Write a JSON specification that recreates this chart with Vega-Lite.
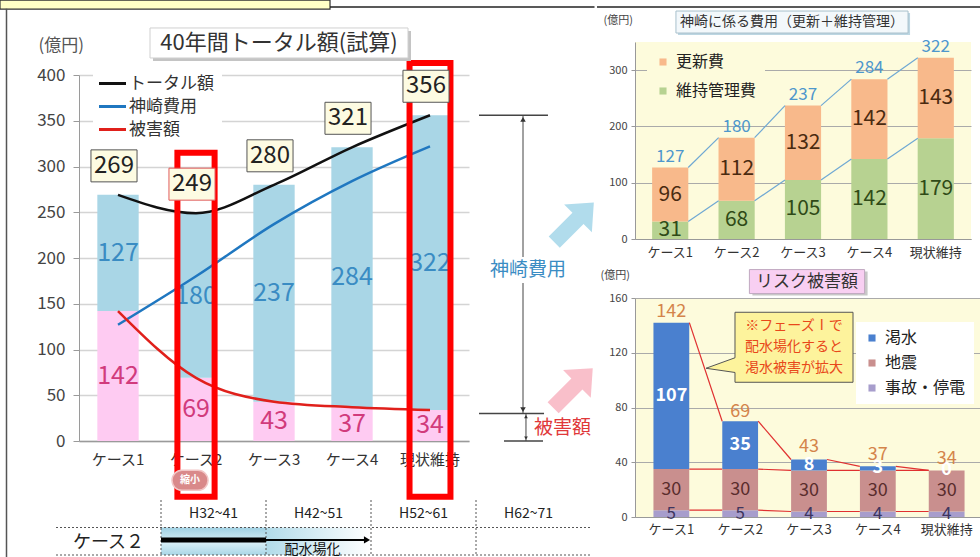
{
  "$schema": "https://vega.github.io/schema/vega-lite/v6.json",
  "padding": {"left": -3, "top": -3, "right": 0, "bottom": 0},
  "background": "#ffffff",
  "config": {
    "font": "Noto Sans CJK JP",
    "view": {"stroke": null},
    "axis": {"labelFont": "Noto Sans CJK JP", "titleFont": "Noto Sans CJK JP"},
    "legend": {"labelFont": "Noto Sans CJK JP", "titleFont": "Noto Sans CJK JP"},
    "text": {"font": "Noto Sans CJK JP"}
  },
  "datasets": {
    "main": [
      {"区分": "ケース1", "トータル額": 269, "神崎費用": 127, "被害額": 142},
      {"区分": "ケース2", "トータル額": 249, "神崎費用": 180, "被害額": 69},
      {"区分": "ケース3", "トータル額": 280, "神崎費用": 237, "被害額": 43},
      {"区分": "ケース4", "トータル額": 321, "神崎費用": 284, "被害額": 37},
      {"区分": "現状維持", "トータル額": 356, "神崎費用": 322, "被害額": 34}
    ],
    "cost": [
      {"区分": "ケース1", "更新費": 96, "維持管理費": 31, "計": 127},
      {"区分": "ケース2", "更新費": 112, "維持管理費": 68, "計": 180},
      {"区分": "ケース3", "更新費": 132, "維持管理費": 105, "計": 237},
      {"区分": "ケース4", "更新費": 142, "維持管理費": 142, "計": 284},
      {"区分": "現状維持", "更新費": 143, "維持管理費": 179, "計": 322}
    ],
    "risk": [
      {"区分": "ケース1", "渇水": 107, "地震": 30, "事故・停電": 5, "計": 142},
      {"区分": "ケース2", "渇水": 35, "地震": 30, "事故・停電": 5, "計": 69},
      {"区分": "ケース3", "渇水": 8, "地震": 30, "事故・停電": 4, "計": 43},
      {"区分": "ケース4", "渇水": 3, "地震": 30, "事故・停電": 4, "計": 37},
      {"区分": "現状維持", "渇水": 0, "地震": 30, "事故・停電": 4, "計": 34}
    ]
  },
  "spacing": 0,
  "resolve": {
    "scale": {"x": "independent", "y": "independent", "fill": "independent", "color": "independent"},
    "legend": {"fill": "independent", "color": "independent"}
  },
  "hconcat": [
    {
      "bounds": "flush",
      "spacing": 32,
      "resolve": {
        "scale": {"x": "independent", "y": "independent", "fill": "independent", "color": "independent"},
        "legend": {"fill": "independent", "color": "independent"}
      },
      "vconcat": [
        {"width": 390, "height": 1, "data": {"values": [{"t": ""}]}, "mark": {"type": "text"}, "encoding": {"text": {"field": "t"}}},
        {
          "width": 390,
          "height": 366,
          "data": {"name": "main"},
          "resolve": {"scale": {"x": "independent", "y": "independent"}, "axis": {"x": "independent", "y": "independent"}},
          "layer": [
            {
              "layer": [
                {
                  "transform": [
                    {"fold": ["被害額", "神崎費用"], "as": ["部分", "金額"]},
                    {"stack": "金額", "groupby": ["区分"], "sort": [{"field": "部分", "order": "descending"}], "as": ["s0", "s1"]}
                  ],
                  "mark": {"type": "bar"},
                  "encoding": {
                    "x": {"field": "区分", "type": "nominal", "scale": {"paddingInner": 0.47, "paddingOuter": 0.235},
                      "axis": {"title": null, "labelAngle": 0, "labelFontSize": 15, "labelColor": "#333333", "ticks": false, "labelPadding": 11, "domainColor": "#9a9a9a", "domainWidth": 1.5}},
                    "y": {"field": "s0", "type": "quantitative", "scale": {"domain": [0, 400]},
                      "axis": {"values": [0, 50, 100, 150, 200, 250, 300, 350, 400], "title": "(億円)", "titleAngle": 0, "titleX": -41, "titleY": -30, "titleAlign": "left", "titleBaseline": "middle", "titleFontSize": 17, "titleFontWeight": "normal", "titleColor": "#555555", "labelFontSize": 17, "labelColor": "#444444", "labelPadding": 8, "tickSize": 6, "tickColor": "#9a9a9a", "domainColor": "#9a9a9a", "gridColor": "#d4d4d4", "gridWidth": 1.5}},
                    "y2": {"field": "s1"},
                    "fill": {"field": "部分", "type": "nominal", "scale": {"domain": ["被害額", "神崎費用"], "range": ["#fecbf2", "#a9d6e6"]}, "legend": null}
                  }
                },
                {
                  "transform": [
                    {"fold": ["被害額", "神崎費用"], "as": ["部分", "金額"]},
                    {"stack": "金額", "groupby": ["区分"], "sort": [{"field": "部分", "order": "descending"}], "as": ["s0", "s1"]},
                    {"fold": ["s0", "s1"], "as": ["端", "端値"]},
                    {"aggregate": [{"op": "mean", "field": "端値", "as": "中"}], "groupby": ["区分", "部分", "金額"]},
                    {"filter": {"field": "部分", "equal": "神崎費用"}}
                  ],
                  "mark": {"type": "text", "fontSize": 25, "color": "#3a8cc3"},
                  "encoding": {"x": {"field": "区分", "type": "nominal"}, "y": {"field": "中", "type": "quantitative"}, "text": {"field": "金額", "type": "quantitative"}}
                },
                {
                  "transform": [
                    {"fold": ["被害額", "神崎費用"], "as": ["部分", "金額"]},
                    {"stack": "金額", "groupby": ["区分"], "sort": [{"field": "部分", "order": "descending"}], "as": ["s0", "s1"]},
                    {"fold": ["s0", "s1"], "as": ["端", "端値"]},
                    {"aggregate": [{"op": "mean", "field": "端値", "as": "中"}], "groupby": ["区分", "部分", "金額"]},
                    {"filter": {"field": "部分", "equal": "被害額"}}
                  ],
                  "mark": {"type": "text", "fontSize": 25, "color": "#d13b7c"},
                  "encoding": {"x": {"field": "区分", "type": "nominal"}, "y": {"field": "中", "type": "quantitative"}, "text": {"field": "金額", "type": "quantitative"}}
                },
                {
                  "transform": [{"fold": ["トータル額", "神崎費用", "被害額"], "as": ["系列", "値"]}],
                  "mark": {"type": "line", "interpolate": "monotone", "strokeWidth": 2.5},
                  "encoding": {
                    "x": {"field": "区分", "type": "nominal"},
                    "y": {"field": "値", "type": "quantitative"},
                    "color": {"field": "系列", "type": "nominal",
                      "scale": {"domain": ["トータル額", "神崎費用", "被害額"], "range": ["#111111", "#1f77c0", "#e0201b"]},
                      "legend": {"orient": "none", "legendX": 14, "legendY": -11, "title": null, "symbolType": "M-1.35,0H1.35", "symbolSize": 400, "symbolStrokeWidth": 3, "labelFontSize": 17, "labelColor": "#333333", "rowPadding": 3, "labelOffset": 5, "fillColor": "#ffffff", "padding": 8}}
                  }
                },
                {
                  "data": {"values": [{"区分": "ケース2"}]},
                  "mark": {"type": "bar", "fillOpacity": 0, "stroke": "#ff0000", "strokeWidth": 6, "width": {"band": 0.9}},
                  "encoding": {"x": {"field": "区分", "type": "nominal"}, "y": {"datum": 315, "type": "quantitative"}, "y2": {"datum": -61}}
                },
                {
                  "data": {"values": [{"区分": "現状維持"}]},
                  "mark": {"type": "bar", "fillOpacity": 0, "stroke": "#ff0000", "strokeWidth": 6, "width": {"band": 0.99}},
                  "encoding": {"x": {"field": "区分", "type": "nominal"}, "y": {"datum": 413, "type": "quantitative"}, "y2": {"datum": -61}}
                },
                {
                  "mark": {"type": "point", "shape": "M-1.44,-1H1.44V1H-1.44Z", "size": 1024, "filled": true, "fill": "#fdfbe2", "strokeWidth": 1, "opacity": 1, "xOffset": -4, "yOffset": -29},
                  "encoding": {
                    "x": {"field": "区分", "type": "nominal"},
                    "y": {"field": "トータル額", "type": "quantitative"},
                    "stroke": {"condition": {"test": "datum['区分'] === 'ケース2'", "value": "#e05a5a"}, "value": "#555555"}
                  }
                },
                {
                  "mark": {"type": "text", "fontSize": 24, "color": "#222222", "xOffset": -4, "yOffset": -29},
                  "encoding": {"x": {"field": "区分", "type": "nominal"}, "y": {"field": "トータル額", "type": "quantitative"}, "text": {"field": "トータル額", "type": "quantitative"}}
                },
                {
                  "data": {"values": [{}]},
                  "mark": {"type": "point", "shape": "M-8.6,-1H8.6V1H-8.6Z", "size": 900, "filled": true, "fill": "#c4c4c4", "strokeWidth": 0, "opacity": 1, "xOffset": 8, "yOffset": 3},
                  "encoding": {"x": {"datum": "ケース3"}, "y": {"datum": 435, "type": "quantitative"}}
                },
                {
                  "data": {"values": [{}]},
                  "mark": {"type": "point", "shape": "M-8.6,-1H8.6V1H-8.6Z", "size": 900, "filled": true, "fill": "#ffffff", "stroke": "#d0d0d0", "strokeWidth": 1, "opacity": 1, "xOffset": 5},
                  "encoding": {"x": {"datum": "ケース3"}, "y": {"datum": 435, "type": "quantitative"}}
                },
                {
                  "data": {"values": [{}]},
                  "mark": {"type": "text", "text": "40年間トータル額(試算)", "fontSize": 22, "color": "#333333", "xOffset": 5},
                  "encoding": {"x": {"datum": "ケース3"}, "y": {"datum": 435, "type": "quantitative"}}
                },
                {
                  "data": {"values": [{}]},
                  "mark": {"type": "point", "shape": "M-0.8,-1H0.8A1,1 0 0 1 0.8,1H-0.8A1,1 0 0 1 -0.8,-1Z", "size": 400, "filled": true, "fill": "#d9898a", "stroke": "#f2c6c6", "strokeWidth": 1.5, "opacity": 1, "xOffset": -6},
                  "encoding": {"x": {"datum": "ケース2"}, "y": {"datum": -43, "type": "quantitative"}}
                },
                {
                  "data": {"values": [{}]},
                  "mark": {"type": "text", "text": "縮小", "fontSize": 10, "fontWeight": "bold", "color": "#ffffff", "xOffset": -6},
                  "encoding": {"x": {"datum": "ケース2"}, "y": {"datum": -43, "type": "quantitative"}}
                },
                {
                  "data": {"values": [{}]},
                  "mark": {"type": "point", "shape": "M-36.67,-1H36.67V1H-36.67Z", "size": 81, "filled": true, "fill": "#ffffc6", "stroke": "#333333", "strokeWidth": 1.2, "opacity": 1, "xOffset": -31},
                  "encoding": {"x": {"datum": "ケース2"}, "y": {"datum": 477, "type": "quantitative"}}
                },
                {
                  "data": {"values": [{}]},
                  "mark": {"type": "rule", "color": "#222222", "strokeWidth": 1.5, "xOffset": 134, "x2Offset": 164.5},
                  "encoding": {"x": {"datum": "ケース2"}, "x2": {"datum": "現状維持"}, "y": {"datum": 474.3, "type": "quantitative"}}
                },
                {
                  "data": {"values": [{}]},
                  "mark": {"type": "rule", "color": "#555555", "strokeWidth": 1.5, "xOffset": -111.5},
                  "encoding": {"x": {"datum": "ケース1"}, "y": {"datum": 472.5, "type": "quantitative"}, "y2": {"datum": -126.8}}
                },
                {
                  "data": {"values": [{}]},
                  "mark": {"type": "point", "shape": "square", "size": 1, "filled": true, "strokeWidth": 0, "opacity": 0, "xOffset": 164},
                  "encoding": {"x": {"datum": "現状維持"}, "y": {"datum": 200, "type": "quantitative"}}
                }
              ]
            },
            {
              "data": {"values": [{}]},
              "layer": [
                {
                  "mark": {"type": "rule", "color": "#444444", "strokeWidth": 1.5},
                  "encoding": {
                    "x": {"datum": 0.091, "type": "quantitative", "scale": {"domain": [0, 1], "range": [390, 500]}, "axis": null},
                    "x2": {"datum": 0.718},
                    "y": {"datum": 356, "type": "quantitative", "scale": {"domain": [0, 400]}, "axis": null}
                  }
                },
                {
                  "mark": {"type": "rule", "color": "#444444", "strokeWidth": 1.5},
                  "encoding": {"x": {"datum": 0.091, "type": "quantitative"}, "x2": {"datum": 0.682}, "y": {"datum": 30, "type": "quantitative"}}
                },
                {
                  "mark": {"type": "rule", "color": "#444444", "strokeWidth": 1.5},
                  "encoding": {"x": {"datum": 0.318, "type": "quantitative"}, "x2": {"datum": 0.673}, "y": {"datum": 0, "type": "quantitative"}}
                },
                {
                  "mark": {"type": "rule", "color": "#444444", "strokeWidth": 1},
                  "encoding": {"x": {"datum": 0.491, "type": "quantitative"}, "y": {"datum": 356, "type": "quantitative"}, "y2": {"datum": 30}}
                },
                {
                  "mark": {"type": "point", "shape": "triangle-up", "size": 30, "filled": true, "color": "#333333", "opacity": 1, "yOffset": 4},
                  "encoding": {"x": {"datum": 0.491, "type": "quantitative"}, "y": {"datum": 356, "type": "quantitative"}}
                },
                {
                  "mark": {"type": "point", "shape": "triangle-down", "size": 30, "filled": true, "color": "#333333", "opacity": 1, "yOffset": -4},
                  "encoding": {"x": {"datum": 0.491, "type": "quantitative"}, "y": {"datum": 30, "type": "quantitative"}}
                },
                {
                  "mark": {"type": "rule", "color": "#444444", "strokeWidth": 1},
                  "encoding": {"x": {"datum": 0.518, "type": "quantitative"}, "y": {"datum": 30, "type": "quantitative"}, "y2": {"datum": 0}}
                },
                {
                  "mark": {"type": "point", "shape": "triangle-up", "size": 14, "filled": true, "color": "#333333", "opacity": 1, "yOffset": 3},
                  "encoding": {"x": {"datum": 0.518, "type": "quantitative"}, "y": {"datum": 30, "type": "quantitative"}}
                },
                {
                  "mark": {"type": "point", "shape": "triangle-down", "size": 14, "filled": true, "color": "#333333", "opacity": 1, "yOffset": -3},
                  "encoding": {"x": {"datum": 0.518, "type": "quantitative"}, "y": {"datum": 0, "type": "quantitative"}}
                },
                {
                  "mark": {"type": "point", "shape": "M-3.2,-1H3.2V1H-3.2Z", "size": 676, "filled": true, "fill": "#ffffff", "strokeWidth": 0, "opacity": 1},
                  "encoding": {"x": {"datum": 0.536, "type": "quantitative"}, "y": {"datum": 187, "type": "quantitative"}}
                },
                {
                  "mark": {"type": "text", "text": "神崎費用", "fontSize": 19, "color": "#3a8cc3"},
                  "encoding": {"x": {"datum": 0.536, "type": "quantitative"}, "y": {"datum": 187, "type": "quantitative"}}
                },
                {
                  "mark": {"type": "text", "text": "被害額", "fontSize": 19, "color": "#e0383a", "align": "left"},
                  "encoding": {"x": {"datum": 0.591, "type": "quantitative"}, "y": {"datum": 14, "type": "quantitative"}}
                },
                {
                  "mark": {"type": "point", "shape": "M-0.905,0.509L-0.057,-0.339L-0.354,-0.636L0.707,-0.707L0.636,0.354L0.339,0.057L-0.509,0.905Z", "size": 3136, "filled": true, "fill": "#a9d8ea", "strokeWidth": 0, "opacity": 0.9},
                  "encoding": {"x": {"datum": 0.955, "type": "quantitative"}, "y": {"datum": 239, "type": "quantitative"}}
                },
                {
                  "mark": {"type": "point", "shape": "M-0.905,0.509L-0.057,-0.339L-0.354,-0.636L0.707,-0.707L0.636,0.354L0.339,0.057L-0.509,0.905Z", "size": 3136, "filled": true, "fill": "#f8b8c4", "strokeWidth": 0, "opacity": 0.9},
                  "encoding": {"x": {"datum": 0.945, "type": "quantitative"}, "y": {"datum": 58, "type": "quantitative"}}
                }
              ]
            },
            {
              "layer": [
                {
                  "data": {"values": [{"期間": "H32~41"}]},
                  "mark": {"type": "rect", "fill": {"gradient": "linear", "x1": 0, "y1": 0, "x2": 0, "y2": 1, "stops": [{"offset": 0, "color": "#9fd0e2"}, {"offset": 0.55, "color": "#d9eff7"}, {"offset": 1, "color": "#a9d6e6"}]}},
                  "encoding": {
                    "x": {"field": "期間", "type": "nominal", "scale": {"domain": ["_", "H32~41", "H42~51", "H52~61", "H62~71"], "range": [-23, 502], "paddingInner": 0, "paddingOuter": 0}, "axis": null},
                    "y": {"datum": 1, "type": "quantitative", "scale": {"domain": [0, 2], "range": [480, 425]}, "axis": null},
                    "y2": {"datum": 0}
                  }
                },
                {
                  "data": {"values": [{"期間": "H42~51"}]},
                  "mark": {"type": "rect", "fill": {"gradient": "linear", "x1": 0, "y1": 0, "x2": 1, "y2": 0, "stops": [{"offset": 0, "color": "#b2dbe9"}, {"offset": 1, "color": "#ffffff"}]}},
                  "encoding": {"x": {"field": "期間", "type": "nominal"}, "y": {"datum": 1, "type": "quantitative"}, "y2": {"datum": 0}}
                },
                {
                  "data": {"values": [{"期間": "H32~41"}, {"期間": "H42~51"}, {"期間": "H52~61"}, {"期間": "H62~71"}]},
                  "mark": {"type": "rule", "color": "#555555", "strokeWidth": 1, "strokeDash": [2, 2]},
                  "encoding": {"x": {"field": "期間", "type": "nominal", "bandPosition": 0}, "y": {"datum": 2, "type": "quantitative"}, "y2": {"datum": 0}}
                },
                {
                  "data": {"values": [{}]},
                  "mark": {"type": "rule", "color": "#555555", "strokeWidth": 1, "strokeDash": [2, 2], "xOffset": -52.5, "x2Offset": 62},
                  "encoding": {"x": {"datum": "_"}, "x2": {"datum": "H62~71"}, "y": {"datum": 1, "type": "quantitative"}}
                },
                {
                  "data": {"values": [{}]},
                  "mark": {"type": "rule", "color": "#555555", "strokeWidth": 1, "strokeDash": [2, 2], "xOffset": -52.5, "x2Offset": 62},
                  "encoding": {"x": {"datum": "_"}, "x2": {"datum": "H62~71"}, "y": {"datum": 0, "type": "quantitative"}}
                },
                {
                  "data": {"values": [{"期間": "H32~41"}, {"期間": "H42~51"}, {"期間": "H52~61"}, {"期間": "H62~71"}]},
                  "mark": {"type": "text", "fontSize": 14, "color": "#222222"},
                  "encoding": {"x": {"field": "期間", "type": "nominal"}, "y": {"datum": 1.5, "type": "quantitative"}, "text": {"field": "期間"}}
                },
                {
                  "data": {"values": [{"期間": "_", "行": "ケース２"}]},
                  "mark": {"type": "text", "fontSize": 18, "color": "#222222"},
                  "encoding": {"x": {"field": "期間", "type": "nominal"}, "y": {"datum": 0.45, "type": "quantitative"}, "text": {"field": "行"}}
                },
                {
                  "data": {"values": [{"期間": "H32~41"}]},
                  "mark": {"type": "tick", "orient": "horizontal", "bandSize": 105, "thickness": 5, "color": "#000000", "opacity": 1},
                  "encoding": {"x": {"field": "期間", "type": "nominal"}, "y": {"datum": 0.55, "type": "quantitative"}}
                },
                {
                  "data": {"values": [{"期間": "H42~51"}]},
                  "mark": {"type": "tick", "orient": "horizontal", "bandSize": 98, "thickness": 2, "color": "#000000", "opacity": 1, "xOffset": -3},
                  "encoding": {"x": {"field": "期間", "type": "nominal"}, "y": {"datum": 0.55, "type": "quantitative"}}
                },
                {
                  "data": {"values": [{"期間": "H42~51"}]},
                  "mark": {"type": "point", "shape": "triangle-right", "size": 50, "filled": true, "color": "#000000", "opacity": 1, "xOffset": -4},
                  "encoding": {"x": {"field": "期間", "type": "nominal", "bandPosition": 1}, "y": {"datum": 0.55, "type": "quantitative"}}
                },
                {
                  "data": {"values": [{"期間": "H42~51"}]},
                  "mark": {"type": "text", "text": "配水場化", "fontSize": 14, "color": "#111111", "dy": 9, "xOffset": -6},
                  "encoding": {"x": {"field": "期間", "type": "nominal"}, "y": {"datum": 0.5, "type": "quantitative"}}
                }
              ]
            }
          ]
        }
      ]
    },
    {
      "bounds": "flush",
      "spacing": 59,
      "resolve": {
        "scale": {"x": "independent", "y": "independent", "fill": "independent", "color": "independent"},
        "legend": {"fill": "independent", "color": "independent"}
      },
      "vconcat": [
        {
          "width": 336,
          "height": 197,
          "view": {"fill": "#fdfbdc", "stroke": null},
          "data": {"name": "cost"},
          "layer": [
            {
              "transform": [
                {"fold": ["維持管理費", "更新費"], "as": ["部分", "金額"]},
                {"stack": "金額", "groupby": ["区分"], "sort": [{"field": "部分", "order": "descending"}], "as": ["s0", "s1"]}
              ],
              "mark": {"type": "bar"},
              "encoding": {
                "x": {"field": "区分", "type": "nominal", "scale": {"paddingInner": 0.455, "paddingOuter": 0.258},
                  "axis": {"title": null, "labelAngle": 0, "labelFontSize": 13, "labelColor": "#333333", "ticks": false, "labelPadding": 7, "domainColor": "#999999"}},
                "y": {"field": "s0", "type": "quantitative", "scale": {"domain": [0, 350]},
                  "axis": {"values": [0, 50, 100, 150, 200, 250, 300, 350], "title": "(億円)", "titleAngle": 0, "titleX": -32, "titleY": -22, "titleAlign": "left", "titleBaseline": "middle", "titleFontSize": 11, "titleFontWeight": "normal", "titleColor": "#444444", "labelFontSize": 11, "labelColor": "#444444", "tickSize": 4, "labelPadding": 4, "tickColor": "#999999", "domainColor": "#999999", "gridColor": "#aaaaaa", "gridWidth": 1}},
                "y2": {"field": "s1"},
                "fill": {"field": "部分", "type": "nominal", "scale": {"domain": ["更新費", "維持管理費"], "range": ["#f8b98b", "#b7d291"]},
                  "legend": {"orient": "none", "legendX": 12, "legendY": 4, "title": null, "symbolType": "square", "symbolSize": 50, "labelFontSize": 16, "labelColor": "#222222", "rowPadding": 13, "fillColor": "#fdfbdc", "padding": 8, "labelOffset": 5}}
              }
            },
            {
              "transform": [
                {"fold": ["維持管理費", "更新費"], "as": ["部分", "金額"]},
                {"stack": "金額", "groupby": ["区分"], "sort": [{"field": "部分", "order": "descending"}], "as": ["s0", "s1"]},
                {"window": [{"op": "lead", "field": "s1", "as": "次値"}, {"op": "lead", "field": "区分", "as": "次区分"}], "groupby": ["部分"], "sort": [{"field": "区分", "order": "ascending"}]},
                {"filter": "isValid(datum['次区分'])"}
              ],
              "mark": {"type": "rule", "color": "#6fa8d3", "strokeWidth": 1.2, "xOffset": 18, "x2Offset": -18},
              "encoding": {"x": {"field": "区分", "type": "nominal"}, "x2": {"field": "次区分"}, "y": {"field": "s1", "type": "quantitative"}, "y2": {"field": "次値"}}
            },
            {
              "transform": [
                {"fold": ["維持管理費", "更新費"], "as": ["部分", "金額"]},
                {"stack": "金額", "groupby": ["区分"], "sort": [{"field": "部分", "order": "descending"}], "as": ["s0", "s1"]},
                {"fold": ["s0", "s1"], "as": ["端", "端値"]},
                {"aggregate": [{"op": "mean", "field": "端値", "as": "中"}], "groupby": ["区分", "部分", "金額"]},
                {"filter": {"field": "部分", "equal": "更新費"}}
              ],
              "mark": {"type": "text", "fontSize": 21, "color": "#4a2a10"},
              "encoding": {"x": {"field": "区分", "type": "nominal"}, "y": {"field": "中", "type": "quantitative"}, "text": {"field": "金額", "type": "quantitative"}}
            },
            {
              "transform": [
                {"fold": ["維持管理費", "更新費"], "as": ["部分", "金額"]},
                {"stack": "金額", "groupby": ["区分"], "sort": [{"field": "部分", "order": "descending"}], "as": ["s0", "s1"]},
                {"fold": ["s0", "s1"], "as": ["端", "端値"]},
                {"aggregate": [{"op": "mean", "field": "端値", "as": "中"}], "groupby": ["区分", "部分", "金額"]},
                {"filter": {"field": "部分", "equal": "維持管理費"}}
              ],
              "mark": {"type": "text", "fontSize": 21, "color": "#2f4a17"},
              "encoding": {"x": {"field": "区分", "type": "nominal"}, "y": {"field": "中", "type": "quantitative"}, "text": {"field": "金額", "type": "quantitative"}}
            },
            {
              "mark": {"type": "text", "fontSize": 17, "color": "#4e97cc", "baseline": "bottom", "dy": -2},
              "encoding": {"x": {"field": "区分", "type": "nominal"}, "y": {"field": "計", "type": "quantitative"}, "text": {"field": "計", "type": "quantitative"}}
            },
            {
              "data": {"values": [{}]},
              "mark": {"type": "point", "shape": "M-10.55,-1H10.55V1H-10.55Z", "size": 484, "filled": true, "fill": "#bcd6e2", "strokeWidth": 0, "opacity": 1, "xOffset": -9, "yOffset": 2},
              "encoding": {"x": {"datum": "ケース3"}, "y": {"datum": 385.5, "type": "quantitative"}}
            },
            {
              "data": {"values": [{}]},
              "mark": {"type": "point", "shape": "M-10.55,-1H10.55V1H-10.55Z", "size": 484, "filled": true, "fill": "#f3f8fb", "stroke": "#a8c0cc", "strokeWidth": 1, "opacity": 1, "xOffset": -11},
              "encoding": {"x": {"datum": "ケース3"}, "y": {"datum": 385.5, "type": "quantitative"}}
            },
            {
              "data": {"values": [{}]},
              "mark": {"type": "text", "text": "神崎に係る費用（更新＋維持管理）", "fontSize": 14, "color": "#333333", "xOffset": -11},
              "encoding": {"x": {"datum": "ケース3"}, "y": {"datum": 385.5, "type": "quantitative"}}
            },
            {
              "data": {"values": [{}]},
              "mark": {"type": "rule", "color": "#222222", "strokeWidth": 1.5, "xOffset": -73.2, "x2Offset": 47.2},
              "encoding": {"x": {"datum": "ケース1"}, "x2": {"datum": "現状維持"}, "y": {"datum": 412.2, "type": "quantitative"}}
            },
            {
              "data": {"values": [{}]},
              "mark": {"type": "point", "shape": "square", "size": 1, "filled": true, "strokeWidth": 0, "opacity": 0, "xOffset": -72.7},
              "encoding": {"x": {"datum": "ケース1"}, "y": {"datum": 400, "type": "quantitative"}}
            }
          ]
        },
        {
          "width": 348,
          "height": 219,
          "view": {"fill": "#fdfbdc", "stroke": null},
          "data": {"name": "risk"},
          "layer": [
            {
              "transform": [
                {"fold": ["事故・停電", "地震", "渇水"], "as": ["部分", "金額"]},
                {"stack": "金額", "groupby": ["区分"], "sort": [{"field": "部分", "order": "ascending"}], "as": ["s0", "s1"]}
              ],
              "mark": {"type": "bar"},
              "encoding": {
                "x": {"field": "区分", "type": "nominal", "scale": {"paddingInner": 0.48, "paddingOuter": 0.268},
                  "axis": {"title": null, "labelAngle": 0, "labelFontSize": 13, "labelColor": "#333333", "ticks": false, "labelPadding": 6, "domainColor": "#999999"}},
                "y": {"field": "s0", "type": "quantitative", "scale": {"domain": [0, 160]},
                  "axis": {"values": [0, 20, 40, 60, 80, 100, 120, 140, 160], "title": "(億円)", "titleAngle": 0, "titleX": -35, "titleY": -23, "titleAlign": "left", "titleBaseline": "middle", "titleFontSize": 11, "titleFontWeight": "normal", "titleColor": "#444444", "labelFontSize": 11, "labelColor": "#444444", "tickSize": 4, "labelPadding": 4, "tickColor": "#999999", "domainColor": "#999999", "gridColor": "#aaaaaa", "gridWidth": 1}},
                "y2": {"field": "s1"},
                "fill": {"field": "部分", "type": "nominal", "scale": {"domain": ["渇水", "地震", "事故・停電"], "range": ["#4a80cf", "#c98f8e", "#a79dcc"]},
                  "legend": {"orient": "none", "legendX": 221, "legendY": 24, "title": null, "symbolType": "square", "symbolSize": 50, "labelFontSize": 16, "labelColor": "#222222", "rowPadding": 9, "fillColor": "#ffffff", "padding": 8, "labelOffset": 5}}
              }
            },
            {
              "transform": [
                {"fold": ["事故・停電", "地震", "渇水"], "as": ["部分", "金額"]},
                {"stack": "金額", "groupby": ["区分"], "sort": [{"field": "部分", "order": "ascending"}], "as": ["s0", "s1"]},
                {"window": [{"op": "lead", "field": "s1", "as": "次値"}, {"op": "lead", "field": "区分", "as": "次区分"}], "groupby": ["部分"], "sort": [{"field": "区分", "order": "ascending"}]},
                {"filter": "isValid(datum['次区分'])"}
              ],
              "mark": {"type": "rule", "color": "#e03030", "strokeWidth": 1.2, "xOffset": 18, "x2Offset": -18},
              "encoding": {"x": {"field": "区分", "type": "nominal"}, "x2": {"field": "次区分"}, "y": {"field": "s1", "type": "quantitative"}, "y2": {"field": "次値"}}
            },
            {
              "transform": [
                {"fold": ["事故・停電", "地震", "渇水"], "as": ["部分", "金額"]},
                {"stack": "金額", "groupby": ["区分"], "sort": [{"field": "部分", "order": "ascending"}], "as": ["s0", "s1"]},
                {"fold": ["s0", "s1"], "as": ["端", "端値"]},
                {"aggregate": [{"op": "mean", "field": "端値", "as": "中"}], "groupby": ["区分", "部分", "金額"]},
                {"filter": {"field": "部分", "equal": "渇水"}}
              ],
              "mark": {"type": "text", "fontSize": 18, "fontWeight": "bold", "color": "#ffffff"},
              "encoding": {"x": {"field": "区分", "type": "nominal"}, "y": {"field": "中", "type": "quantitative"}, "text": {"field": "金額", "type": "quantitative"}}
            },
            {
              "transform": [
                {"fold": ["事故・停電", "地震", "渇水"], "as": ["部分", "金額"]},
                {"stack": "金額", "groupby": ["区分"], "sort": [{"field": "部分", "order": "ascending"}], "as": ["s0", "s1"]},
                {"fold": ["s0", "s1"], "as": ["端", "端値"]},
                {"aggregate": [{"op": "mean", "field": "端値", "as": "中"}], "groupby": ["区分", "部分", "金額"]},
                {"filter": {"field": "部分", "equal": "地震"}}
              ],
              "mark": {"type": "text", "fontSize": 18, "color": "#5a2d2d"},
              "encoding": {"x": {"field": "区分", "type": "nominal"}, "y": {"field": "中", "type": "quantitative"}, "text": {"field": "金額", "type": "quantitative"}}
            },
            {
              "transform": [
                {"fold": ["事故・停電", "地震", "渇水"], "as": ["部分", "金額"]},
                {"stack": "金額", "groupby": ["区分"], "sort": [{"field": "部分", "order": "ascending"}], "as": ["s0", "s1"]},
                {"fold": ["s0", "s1"], "as": ["端", "端値"]},
                {"aggregate": [{"op": "mean", "field": "端値", "as": "中"}], "groupby": ["区分", "部分", "金額"]},
                {"filter": {"field": "部分", "equal": "事故・停電"}}
              ],
              "mark": {"type": "text", "fontSize": 17, "color": "#3d3560"},
              "encoding": {"x": {"field": "区分", "type": "nominal"}, "y": {"field": "中", "type": "quantitative"}, "text": {"field": "金額", "type": "quantitative"}}
            },
            {
              "mark": {"type": "text", "fontSize": 18, "color": "#d4844a", "baseline": "bottom", "dy": -2},
              "encoding": {"x": {"field": "区分", "type": "nominal"}, "y": {"field": "計", "type": "quantitative"}, "text": {"field": "計", "type": "quantitative"}}
            },
            {
              "data": {"values": [{}]},
              "mark": {"type": "point", "shape": "M-4.8,-1H4.8V1H-4.8Z", "size": 576, "filled": true, "fill": "#c8c8c8", "strokeWidth": 0, "opacity": 1, "xOffset": 1, "yOffset": 2},
              "encoding": {"x": {"datum": "ケース3"}, "y": {"datum": 172, "type": "quantitative"}}
            },
            {
              "data": {"values": [{}]},
              "mark": {"type": "point", "shape": "M-4.8,-1H4.8V1H-4.8Z", "size": 576, "filled": true, "fill": "#f8cff2", "stroke": "#c0a8c0", "strokeWidth": 1, "opacity": 1, "xOffset": -2},
              "encoding": {"x": {"datum": "ケース3"}, "y": {"datum": 172, "type": "quantitative"}}
            },
            {
              "data": {"values": [{}]},
              "mark": {"type": "text", "text": "リスク被害額", "fontSize": 17, "color": "#333333", "xOffset": -2},
              "encoding": {"x": {"datum": "ケース3"}, "y": {"datum": 172, "type": "quantitative"}}
            },
            {
              "data": {"values": [{}]},
              "mark": {"type": "point", "shape": "M-1.686,-1H1.686V1H-1.686V0.72L-2.514,0.6L-1.686,0.3Z", "size": 4900, "filled": true, "fill": "#fdf39c", "stroke": "#555555", "strokeWidth": 1, "opacity": 1, "xOffset": -15},
              "encoding": {"x": {"datum": "ケース3"}, "y": {"datum": 124, "type": "quantitative"}}
            },
            {
              "data": {"values": [{}]},
              "mark": {"type": "text", "text": "※フェーズⅠで\n配水場化すると\n渇水被害が拡大", "lineBreak": "\n", "lineHeight": 21, "fontSize": 14, "color": "#e8481a", "xOffset": -15, "yOffset": -21},
              "encoding": {"x": {"datum": "ケース3"}, "y": {"datum": 124, "type": "quantitative"}}
            }
          ]
        }
      ]
    }
  ]
}
